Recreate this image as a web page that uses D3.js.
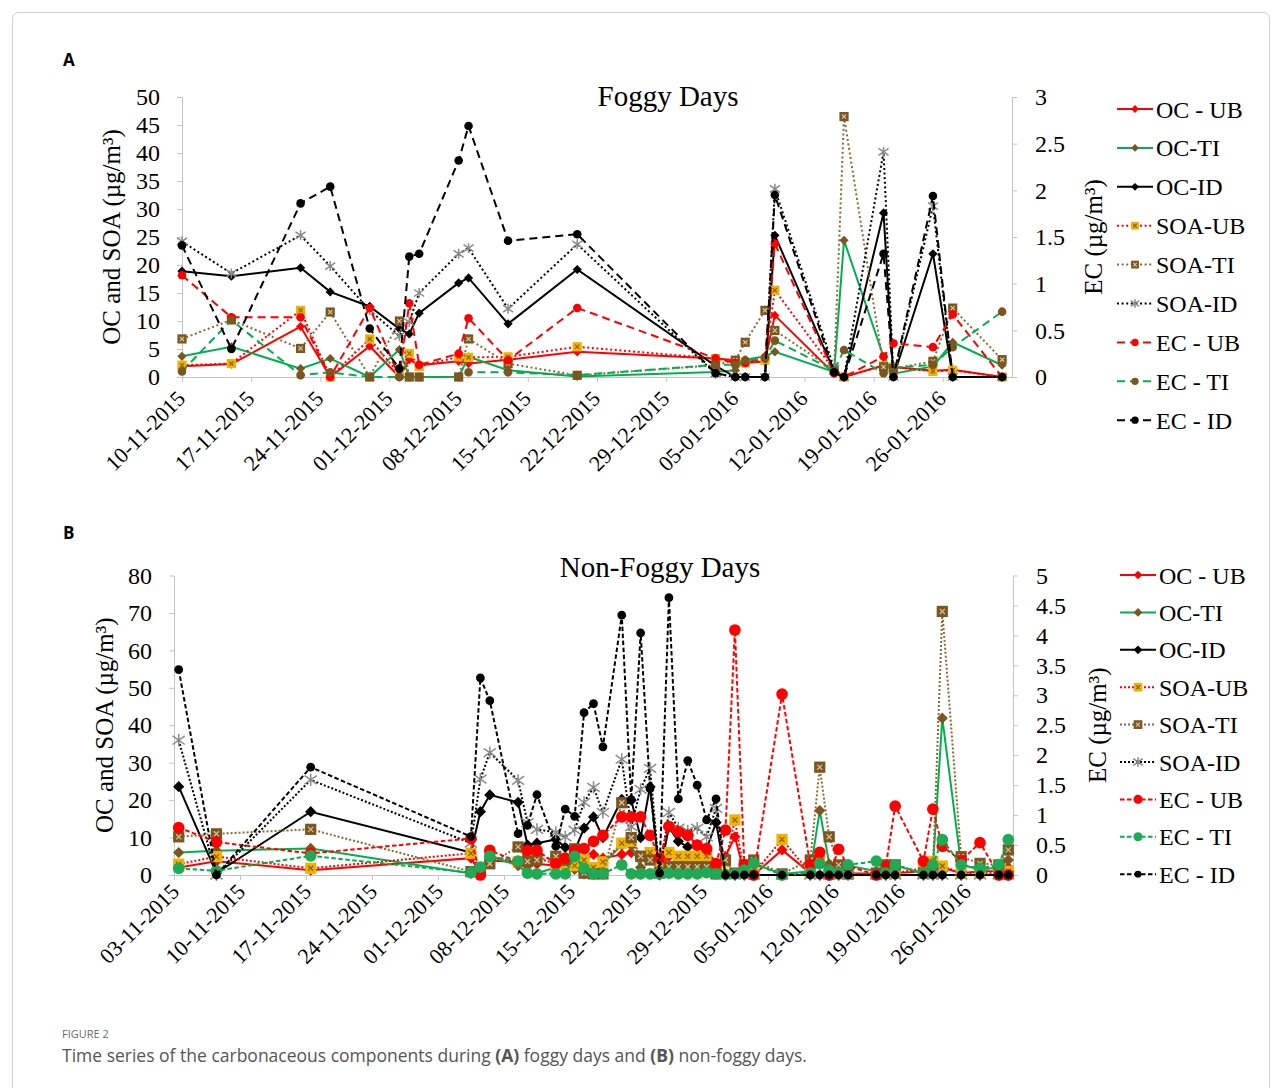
<!DOCTYPE html>
<html>
<head>
<meta charset="utf-8">
<script src="https://cdn.jsdelivr.net/npm/d3@7"></script>
<style>
  body { margin: 0; background: #fff; }
  svg { display: block; }
</style>
</head>
<body>
<svg id="fig" width="1282" height="1088"></svg>
<script>
// ---------- panel A : foggy days ----------
var datesA = ['10-11-2015', '15-11-2015', '22-11-2015', '25-11-2015', '29-11-2015',
  '02-12-2015', '03-12-2015', '04-12-2015', '08-12-2015', '09-12-2015', '13-12-2015',
  '20-12-2015', '03-01-2016', '05-01-2016', '06-01-2016', '08-01-2016', '09-01-2016',
  '15-01-2016', '16-01-2016', '20-01-2016', '21-01-2016', '25-01-2016', '27-01-2016',
  '01-02-2016'];
var ocUbA = [1.9, 2.3, 9, 0, 5.5, 0, 3.1, 2.1, 2.8, 2.4, 3.1, 4.5, 3.3, 3, 2.5, 2.8, 11, 0.6, 0, 2.1, 1.8, 1.1, 1.3, 0];
var ocTiA = [3.7, 5.4, 1.5, 3.3, 0, 4.9, 0, 0, 0, 3.6, 1.2, 0.1, 0.9, 1.2, 3.1, 3.7, 4.5, 0.9, 24.4, 3.6, 0.6, 1.9, 6.2, 2.1];
var ocIdA = [18.9, 18, 19.5, 15.2, 12.6, 8.6, 7.7, 11.4, 16.8, 17.7, 9.5, 19.2, 2, 0, 0, 0, 25.3, 1, 0, 29.3, 0, 22, 0, 0];
var soaUbA = [2.1, 2.4, 11.9, 0, 6.8, 0.5, 4.2, 1.9, 3.6, 3.5, 3.6, 5.4, 3.3, 2.7, 2.5, 3, 15.5, 1.2, 0, 2, 1.8, 1, 1.2, 0];
var soaTiA = [6.8, 10.2, 5.1, 11.6, 0, 10, 0, 0, 0, 6.8, 2.4, 0.3, 2.1, 3, 6.2, 11.9, 8.3, 1.2, 46.5, 1.8, 1.5, 2.8, 12.3, 3.1];
var soaIdA = [24.2, 18.5, 25.3, 19.8, 11.9, 7.3, 9.8, 15, 22, 23, 12.2, 23.7, 0.6, 0, 0, 0, 33.6, 1.5, 0, 40.2, 0, 30.5, 0, 0];
var ecUbA = [1.09, 0.64, 0.64, 0, 0.74, 0, 0.79, 0.13, 0.25, 0.63, 0.18, 0.74, 0.2, 0.15, 0.15, 0.21, 1.43, 0.04, 0, 0.22, 0.36, 0.32, 0.67, 0];
var ecTiA = [0.06, 0.61, 0.02, 0.05, 0, 0, 0, 0, 0, 0.05, 0.05, 0.02, 0.13, 0.13, 0.18, 0.2, 0.39, 0.07, 0.29, 0.04, 0.1, 0.13, 0.32, 0.7];
var ecIdA = [1.41, 0.3, 1.86, 2.04, 0.52, 0.09, 1.29, 1.32, 2.32, 2.69, 1.46, 1.53, 0.04, 0, 0, 0, 1.95, 0.05, 0, 1.32, 0, 1.94, 0, 0];
var xTicksA = ['10-11-2015', '17-11-2015', '24-11-2015', '01-12-2015', '08-12-2015', '15-12-2015',
  '22-12-2015', '29-12-2015', '05-01-2016', '12-01-2016', '19-01-2016', '26-01-2016'];
var yTicksA = [0, 5, 10, 15, 20, 25, 30, 35, 40, 45, 50];
var ecTicksA = [0, 0.5, 1, 1.5, 2, 2.5, 3];

// ---------- panel B : non-foggy days ----------
var datesB = ['03-11-2015', '07-11-2015', '17-11-2015', '04-12-2015', '05-12-2015', '06-12-2015',
  '09-12-2015', '10-12-2015', '11-12-2015', '13-12-2015', '14-12-2015', '15-12-2015', '16-12-2015',
  '17-12-2015', '18-12-2015', '20-12-2015', '21-12-2015', '22-12-2015', '23-12-2015', '24-12-2015',
  '25-12-2015', '26-12-2015', '27-12-2015', '28-12-2015', '29-12-2015', '30-12-2015', '31-12-2015',
  '01-01-2016', '02-01-2016', '03-01-2016', '06-01-2016', '09-01-2016', '10-01-2016', '11-01-2016',
  '12-01-2016', '13-01-2016', '16-01-2016', '17-01-2016', '18-01-2016', '21-01-2016', '22-01-2016',
  '23-01-2016', '25-01-2016', '27-01-2016', '29-01-2016', '30-01-2016'];
var ocUbB = [2, 3.7, 1.3, 4.5, 0.5, 3.8, 3.5, 2.5, 3, 2.5, 2.5, 3.5, 4, 5.5, 4.5, 5.5, 6, 4.5, 5, 1.5,
  5, 4.5, 3.5, 4, 3.5, 1, 5, 10.2, 0.5, 0, 6.7, 0.5, 5, 1, 1, 0.5, 0.3, 0.3, 0.5, 1, 2, 2, 0.5, 1, 1, 2];
var ocTiB = [6, 6.5, 7.1, 0.4, 1.5, 5, 2.5, 0.5, 0.5, 2, 4.5, 1.5, 0.3, 0.3, 3, 8, 8, 2, 0.3, 0.3,
  0.5, 0.5, 0.5, 0.5, 1, 0.5, 0.3, 0.5, 1.3, 3, 0.3, 1, 17.2, 3, 0.3, 2.5, 1, 2.5, 2.5, 0.5, 2, 41.9, 2.7, 1.5, 2, 4];
var ocIdB = [23.6, 0.5, 16.9, 6, 16.9, 21.4, 19.4, 8, 8.5, 9.5, 7.4, 6.5, 12.5, 15.5, 10, 20.2, 20, 10, 23.6, 0,
  12.8, 9, 7.5, 8, 7, 14, 0, 0, 0, 0, 0, 0, 0, 0, 0, 0, 0, 0, 0, 0, 0, 0, 0, 0, 0, 0];
var soaUbB = [2.9, 4.9, 1.8, 5.8, 1, 5, 3.5, 4.5, 4.5, 3, 3, 2.5, 4, 2, 3.5, 8.5, 9, 5, 6, 2.7,
  6, 5, 5, 5, 5, 0.5, 3.5, 14.7, 0.5, 0.3, 9.5, 0.5, 3.5, 0.5, 0.3, 0.3, 0.2, 2.4, 0.5, 1.8, 3.6, 2.4, 0.5, 0.5, 0.5, 1];
var soaTiB = [10.2, 11, 12.2, 0.9, 2, 3, 7.5, 3.6, 4, 5, 4, 7, 0.5, 0.3, 0.3, 19.3, 10, 5, 4, 0.5,
  2.2, 2.2, 2.2, 2.2, 2.2, 0.3, 4, 0.5, 2.7, 4, 0.3, 4, 28.8, 10.2, 2.7, 0.3, 0.5, 2.7, 2.7, 0.5, 1, 70.4, 4.9, 3.1, 2.7, 6.7];
var soaIdB = [36, 0, 25.4, 8.5, 25.6, 32.7, 25.3, 14, 12.2, 11.4, 10.2, 12, 19.4, 23.4, 16.7, 30.9, 12.9, 22.9, 28.5, 0.5,
  16.7, 12.5, 11.8, 12.5, 10.2, 17.8, 0, 0, 0, 0, 0, 0, 0, 0, 0, 0, 0, 0, 0, 0, 0, 0, 0, 0, 0, 0];
var ecUbB = [0.79, 0.55, 0.36, 0.61, 0, 0.41, 0.22, 0.41, 0.41, 0.19, 0.28, 0.41, 0.44, 0.56, 0.66, 0.97, 0.97, 0.97, 0.66, 0.28,
  0.81, 0.72, 0.66, 0.5, 0.44, 0.19, 0.75, 4.09, 0.17, 0, 3.02, 0.17, 0.38, 0, 0.43, 0.15, 0, 0.14, 1.15, 0.23, 1.1, 0.48, 0.24, 0.54, 0, 0];
var ecTiB = [0.11, 0.07, 0.32, 0.04, 0.13, 0.31, 0.23, 0.03, 0.02, 0.02, 0.02, 0.31, 0.11, 0.02, 0.02, 0.17, 0.02, 0.02, 0.02, 0.02,
  0.03, 0.02, 0.02, 0.02, 0.04, 0.02, 0.01, 0.02, 0.08, 0.19, 0, 0.03, 0.19, 0.08, 0.03, 0.17, 0.23, 0.03, 0.17, 0.03, 0.17, 0.59, 0.17, 0.11, 0.17, 0.59];
var ecIdB = [3.43, 0, 1.8, 0.64, 3.29, 2.91, 0.69, 0.83, 1.34, 0.48, 1.1, 0.98, 2.71, 2.86, 2.14, 4.34, 1.26, 4.04, 1.44, 0.03,
  4.63, 1.27, 1.91, 1.5, 0.92, 1.27, 0, 0, 0, 0, 0, 0, 0, 0, 0, 0, 0, 0, 0, 0, 0, 0, 0, 0, 0, 0];
var xTicksB = ['03-11-2015', '10-11-2015', '17-11-2015', '24-11-2015', '01-12-2015', '08-12-2015',
  '15-12-2015', '22-12-2015', '29-12-2015', '05-01-2016', '12-01-2016', '19-01-2016', '26-01-2016'];
var yTicksB = [0, 10, 20, 30, 40, 50, 60, 70, 80];
var ecTicksB = [0, 0.5, 1, 1.5, 2, 2.5, 3, 3.5, 4, 4.5, 5];

var seriesNames = ['OC - UB', 'OC-TI', 'OC-ID', 'SOA-UB', 'SOA-TI', 'SOA-ID', 'EC - UB', 'EC - TI', 'EC - ID'];

// ---------- styling ----------
var serif = '"Liberation Serif", "Times New Roman", serif';
var sans = '"Open Sans", "Noto Sans", sans-serif';
var brown = '#7b5620';
var axisGrey = '#c4c4c4';
var styles = [
  { color: '#ff0000', dash: 'solid', marker: 'diamond', fill: '#ff0000', axis: 'L' },
  { color: '#00b050', dash: 'solid', marker: 'diamond', fill: brown, axis: 'L' },
  { color: '#000000', dash: 'solid', marker: 'diamond', fill: '#000000', axis: 'L' },
  { color: '#ff0000', dash: 'dot', marker: 'xsquare', fill: '#f2b200', cross: '#8a6400', axis: 'L' },
  { color: '#8c6a30', dash: 'dot', marker: 'xsquare', fill: brown, cross: '#d8c49a', axis: 'L' },
  { color: '#000000', dash: 'dot', marker: 'asterisk', fill: '#8a8a8a', axis: 'L' },
  { color: '#ff0000', dash: 'dash', marker: 'circle', fill: '#ff0000', axis: 'R' },
  { color: '#00b050', dash: 'dash', marker: 'circle', fill: brown, fillB: '#1faa55', axis: 'R' },
  { color: '#000000', dash: 'dash', marker: 'circle', fill: '#000000', axis: 'R', shrinkB: 0.75 }
];

var parse = d3.timeParse('%d-%m-%Y');
var fmt = d3.timeFormat('%d-%m-%Y');
var svg = d3.select('#fig');

svg.append('rect')
  .attr('x', 12.5).attr('y', 12.5)
  .attr('width', 1257).attr('height', 1100)
  .attr('rx', 6)
  .attr('fill', 'none')
  .attr('stroke', '#cfcfcf');

function drawMarker(g, st, cx, cy, k, isB) {
  var fill = (isB && st.fillB) ? st.fillB : st.fill;
  var s = k * ((isB && st.shrinkB) ? st.shrinkB : 1);
  var m = g.append('g').attr('transform', 'translate(' + cx + ',' + cy + ')');
  if (st.marker === 'diamond') {
    var r = 4.6 * s;
    m.append('path')
      .attr('d', 'M0,' + (-r) + 'L' + r + ',0L0,' + r + 'L' + (-r) + ',0Z')
      .attr('fill', fill);
  } else if (st.marker === 'circle') {
    m.append('circle').attr('r', (isB ? 4.8 : 4.3) * s).attr('fill', fill);
  } else if (st.marker === 'xsquare') {
    var h = 4.6 * s;
    m.append('rect').attr('x', -h).attr('y', -h).attr('width', 2 * h).attr('height', 2 * h)
      .attr('fill', fill);
    var c = h * 0.45;
    m.append('path')
      .attr('d', 'M' + (-c) + ',' + (-c) + 'L' + c + ',' + c + 'M' + c + ',' + (-c) + 'L' + (-c) + ',' + c)
      .attr('stroke', st.cross).attr('stroke-width', 1.2);
  } else if (st.marker === 'asterisk') {
    var a = 5 * s;
    m.append('path')
      .attr('d', 'M' + (-a) + ',' + (-a * 0.7) + 'L' + a + ',' + (a * 0.7) +
                 'M' + a + ',' + (-a * 0.7) + 'L' + (-a) + ',' + (a * 0.7) +
                 'M0,' + (-a) + 'L0,' + a)
      .attr('stroke', fill).attr('stroke-width', 1.5).attr('fill', 'none');
  }
}

function drawPanel(p) {
  var g = svg.append('g');
  var x = d3.scaleTime().domain(p.xDomain.map(parse)).range([p.left, p.right]);
  var y = d3.scaleLinear().domain([0, p.yMax]).range([p.bottom, p.top]);
  var yR = d3.scaleLinear().domain([0, p.ecMax]).range([p.bottom, p.top]);
  var dash = p.isB ? { solid: null, dot: '2,2', dash: '4.5,2.5' }
                   : { solid: null, dot: '2,2.6', dash: '8,5' };

  // panel letter + title
  svg.append('text').attr('x', p.letterX).attr('y', p.letterY)
    .attr('font-family', sans).attr('font-weight', 700).attr('font-size', 17)
    .text(p.letter);
  g.append('text').attr('x', p.titleX).attr('y', p.titleY)
    .attr('text-anchor', 'middle').attr('font-family', serif).attr('font-size', 29)
    .text(p.title);

  // x axis
  var xa = g.append('g').attr('transform', 'translate(0,' + p.bottom + ')')
    .call(d3.axisBottom(x).tickValues(p.xTicks.map(parse)).tickFormat(fmt)
      .tickSize(5).tickSizeOuter(0));
  xa.select('.domain').attr('stroke', axisGrey);
  xa.selectAll('.tick line').attr('stroke', axisGrey);
  xa.selectAll('.tick text')
    .attr('font-family', serif).attr('font-size', 22).attr('fill', '#000')
    .attr('text-anchor', 'end').attr('x', 0).attr('y', 0).attr('dy', 0)
    .attr('transform', 'translate(' + p.labelShift[0] + ',' + p.labelShift[1] + ') rotate(-45)');

  // left axis
  var ya = g.append('g').attr('transform', 'translate(' + p.left + ',0)')
    .call(d3.axisLeft(y).tickValues(p.yTicks).tickSize(5).tickSizeOuter(0).tickPadding(17));
  ya.select('.domain').attr('stroke', axisGrey);
  ya.selectAll('.tick line').attr('stroke', axisGrey);
  ya.selectAll('.tick text').attr('font-family', serif).attr('font-size', 24).attr('fill', '#000');

  // right axis
  var ra = g.append('g').attr('transform', 'translate(' + p.right + ',0)')
    .call(d3.axisRight(yR).tickValues(p.ecTicks).tickSize(5).tickSizeOuter(0).tickPadding(18)
      .tickFormat(function (d) { return String(d); }));
  ra.select('.domain').attr('stroke', axisGrey);
  ra.selectAll('.tick line').attr('stroke', axisGrey);
  ra.selectAll('.tick text').attr('font-family', serif).attr('font-size', 24).attr('fill', '#000');

  // axis titles
  g.append('text')
    .attr('transform', 'translate(' + p.yLabelX + ',' + (p.top + p.bottom) / 2 + ') rotate(-90)')
    .attr('text-anchor', 'middle').attr('font-family', serif).attr('font-size', 25)
    .text('OC  and SOA (µg/m³)');
  g.append('text')
    .attr('transform', 'translate(' + p.rLabelX + ',' + (p.top + p.bottom) / 2 + ') rotate(-90)')
    .attr('text-anchor', 'middle').attr('font-family', serif).attr('font-size', 25)
    .text('EC (µg/m³)');

  // series
  var pts = p.dates.map(function (d) {
    var t = parse(d);
    return p.isB ? d3.timeHour.offset(t, 12) : t;
  });
  var mk = p.isB ? 1.22 : 1;
  p.values.forEach(function (vals, i) {
    var st = styles[i];
    var ys = st.axis === 'R' ? yR : y;
    var data = vals.map(function (v, j) { return { t: pts[j], v: v }; });
    var line = d3.line().x(function (d) { return x(d.t); }).y(function (d) { return ys(d.v); });
    g.append('path').datum(data)
      .attr('d', line)
      .attr('fill', 'none')
      .attr('stroke', st.color)
      .attr('stroke-width', 2)
      .attr('stroke-dasharray', dash[st.dash]);
    var mg = g.append('g');
    data.forEach(function (d) {
      drawMarker(mg, st, x(d.t), ys(d.v), mk, p.isB);
    });
  });

  // legend
  seriesNames.forEach(function (name, i) {
    var st = styles[i];
    var ly = p.legTop + i * p.legStep;
    g.append('line')
      .attr('x1', p.legX).attr('x2', p.legX + 36)
      .attr('y1', ly).attr('y2', ly)
      .attr('stroke', st.color).attr('stroke-width', 2)
      .attr('stroke-dasharray', dash[st.dash]);
    drawMarker(g, st, p.legX + 18, ly, p.isB ? 0.95 : 0.85, p.isB);
    g.append('text').attr('x', p.legX + 39).attr('y', ly + 8.5)
      .attr('font-family', serif).attr('font-size', 24)
      .text(name);
  });
}

drawPanel({
  isB: false, letter: 'A', letterX: 63, letterY: 66,
  title: 'Foggy Days', titleX: 668, titleY: 106,
  left: 182, right: 1012, top: 97, bottom: 377,
  xDomain: ['10-11-2015', '02-02-2016'], xTicks: xTicksA, labelShift: [4, 23],
  yMax: 50, ecMax: 3, yTicks: yTicksA, ecTicks: ecTicksA,
  yLabelX: 120, rLabelX: 1102,
  dates: datesA,
  values: [ocUbA, ocTiA, ocIdA, soaUbA, soaTiA, soaIdA, ecUbA, ecTiA, ecIdA],
  legX: 1117, legTop: 109, legStep: 38.9
});

drawPanel({
  isB: true, letter: 'B', letterX: 63, letterY: 539,
  title: 'Non-Foggy Days', titleX: 660, titleY: 577,
  left: 174, right: 1013, top: 575.5, bottom: 875,
  xDomain: ['03-11-2015', '31-01-2016'], xTicks: xTicksB, labelShift: [6, 18],
  yMax: 80, ecMax: 5, yTicks: yTicksB, ecTicks: ecTicksB,
  yLabelX: 113, rLabelX: 1106,
  dates: datesB,
  values: [ocUbB, ocTiB, ocIdB, soaUbB, soaTiB, soaIdB, ecUbB, ecTiB, ecIdB],
  legX: 1120, legTop: 575, legStep: 37.4
});

// caption
svg.append('text').attr('x', 62).attr('y', 1038)
  .attr('font-family', sans).attr('font-size', 11).attr('fill', '#6a6a6a')
  .text('FIGURE 2');
var cap = svg.append('text').attr('x', 62).attr('y', 1062)
  .attr('font-family', sans).attr('font-size', 17.5).attr('fill', '#555');
cap.append('tspan').text('Time series of the carbonaceous components during ');
cap.append('tspan').attr('font-weight', 700).text('(A)');
cap.append('tspan').text(' foggy days and ');
cap.append('tspan').attr('font-weight', 700).text('(B)');
cap.append('tspan').text(' non-foggy days.');
</script>
</body>
</html>
